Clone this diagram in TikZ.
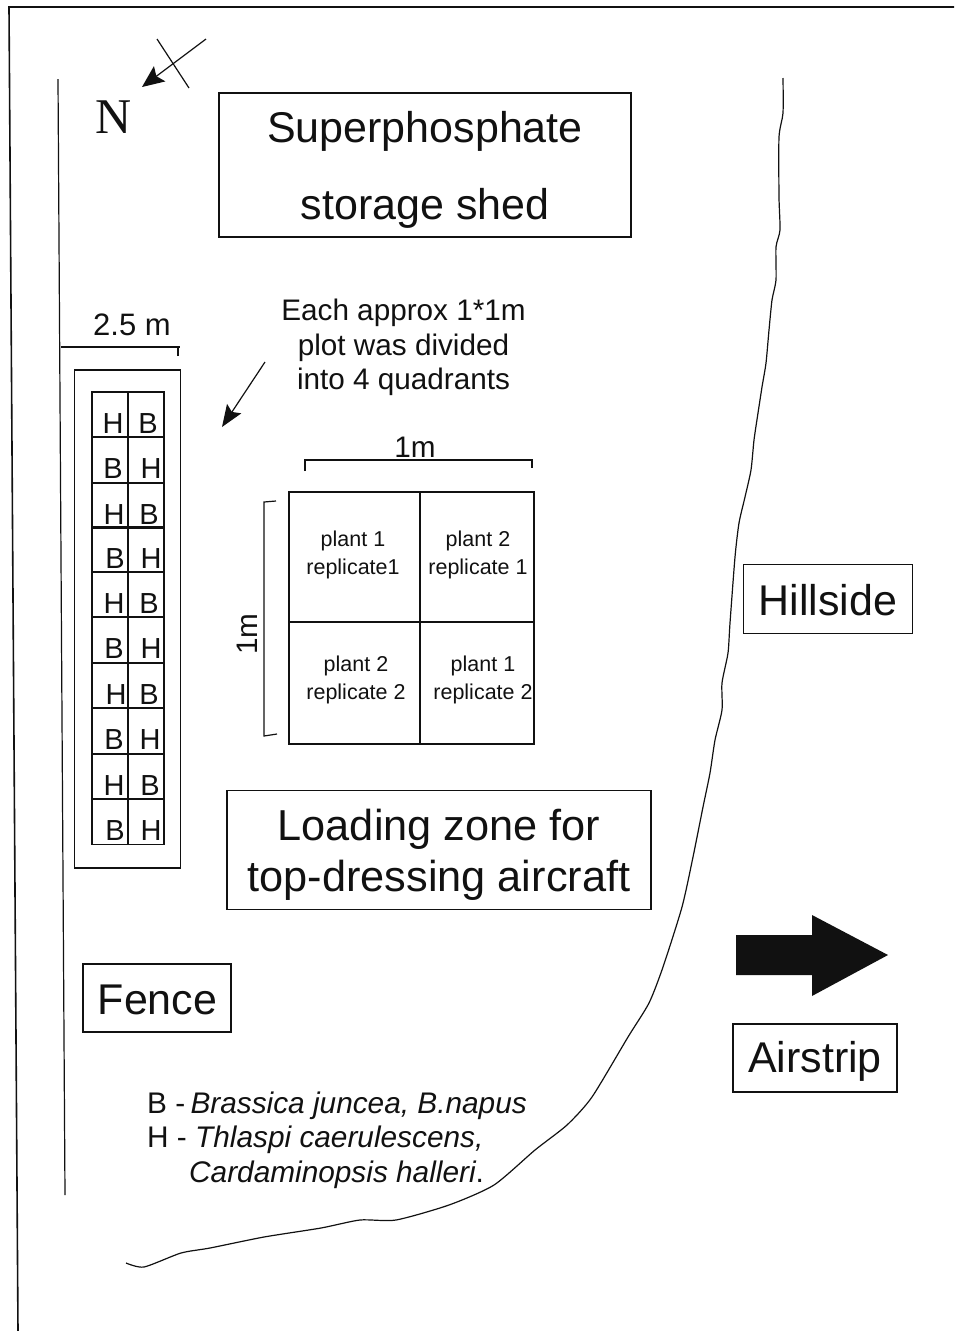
\documentclass[tikz,border=0pt]{standalone}
\usepackage{fontspec}
\setmainfont{Liberation Sans}
\newfontfamily\compassfont{Liberation Serif}
\usetikzlibrary{arrows.meta,positioning}
\definecolor{Ink}{HTML}{111111}
\begin{document}
\begin{tikzpicture}[x=1pt,y=-1pt,>=Stealth,
    lbl/.style={draw=Ink,line width=1.3pt,inner sep=0pt,outer sep=0pt,align=center,text=Ink,
      font=\fontsize{43}{51}\selectfont},
    cellbox/.style={draw=Ink,line width=1.2pt,anchor=north west,inner sep=0pt,outer sep=0pt,
      minimum width=36pt,minimum height=45.3pt},
    letr/.style={anchor=base,inner sep=0pt,text=Ink,font=\fontsize{29}{29}\selectfont},
    quad/.style={draw=Ink,line width=1.2pt,anchor=north west,inner sep=0pt,outer sep=0pt},
    quadtxt/.style={inner sep=0pt,align=center,text=Ink,font=\fontsize{21.5}{28}\selectfont},
    note/.style={inner sep=0pt,align=center,text=Ink,font=\fontsize{29.7}{34.5}\selectfont},
    line/.style={draw=Ink,line width=1.2pt}]
  \useasboundingbox (0,0) rectangle (954,1331);
  % fence lines and frame
  \coordinate (frameTL) at (9,7);
  \coordinate (frameTR) at (954,7);
  \coordinate (frameBL) at (18,1331);
  \coordinate (fenceT) at (58,79);
  \coordinate (fenceB) at (65,1195);
  \draw[line,line width=1.6pt] (frameBL) -- (frameTL) -- (frameTR);
  \draw[line] (fenceT) -- (fenceB);
  % compass
  \coordinate (tail) at (206,39);
  \coordinate (tip) at (142,87);
  \coordinate (crossA) at (157,39);
  \coordinate (crossB) at (189,88);
  \draw[line,->,>={Stealth[length=22pt,width=19pt,inset=4pt]}] (tail) -- (tip);
  \draw[line] (crossA) -- (crossB);
  \node[inner sep=0pt,text=Ink,font=\compassfont\fontsize{50}{50}\selectfont] (N) at (114,117) {N};
  % labelled boxes
  \node[lbl,minimum width=412pt,minimum height=144pt,text height=109pt,text depth=0pt] (shed) at (425,165)
    {Superphosphate\\[26pt] storage shed};
  \node[lbl,minimum width=424pt,minimum height=119pt,text height=82pt,text depth=0pt,
    font=\fontsize{43.3}{51}\selectfont] (zone) at (439,850)
    {Loading zone for\\ top-dressing aircraft};
  \node[lbl,minimum width=148pt,minimum height=68pt,text height=33pt,text depth=0pt] (fence) at (157,998) {\hspace{1pt}Fence};
  \node[lbl,minimum width=169pt,minimum height=69pt,text height=33pt,text depth=0pt] (hill) at (828,599) {Hillside};
  \node[lbl,minimum width=164pt,minimum height=68pt,text height=28pt,text depth=0pt] (air) at (815,1058) {Airstrip};
  % plots
  \coordinate (dimL) at (61,347);
  \coordinate (dimR) at (180,347);
  \coordinate (dimT) at (178,356);
  \draw[line] (dimL) -- (dimR);
  \draw[line] (dimT) -- (dimT|-dimR);
  \node[note,font=\fontsize{31}{31}\selectfont] (wide) at (132,325) {2.5 m};
  \node[draw=Ink,line width=1.5pt,anchor=north west,inner sep=0pt,outer sep=0pt,
    minimum width=106pt,minimum height=498pt] (plotarea) at (74.5,370) {};
  \foreach \yy/\ltxt/\lx/\rtxt/\rx [count=\n] in {392/H/113/B/148,437/B/113/H/151,483/H/114/B/149,
      527/B/115/H/151,572/H/114/B/149,617/B/114/H/151,663/H/116/B/149,708/B/114/H/150,
      754/H/114/B/150,799/B/115/H/151}{
    \node[cellbox] (left\n) at (92,\yy) {};
    \node[cellbox] (right\n) at (128,\yy) {};
    \node[letr] (ltr\n) at (\lx,\yy+41) {\ltxt};
    \node[letr] (rtr\n) at (\rx,\yy+41) {\rtxt};
  }
  % note and its arrow
  \node[note] (each) at (403.5,347.5) {Each approx 1*1m\\ plot was divided\\ into 4 quadrants};
  \coordinate (noteS) at (265,362);
  \coordinate (noteE) at (222,427);
  \draw[line,->,>={Stealth[length=22pt,width=17pt,inset=4pt]}] (noteS) -- (noteE);
  % quadrants
  \node[quad,minimum width=131pt,minimum height=130pt] (q1) at (289,492) {};
  \node[quad,minimum width=114pt,minimum height=130pt] (q2) at (420,492) {};
  \node[quad,minimum width=131pt,minimum height=122pt] (q3) at (289,622) {};
  \node[quad,minimum width=114pt,minimum height=122pt] (q4) at (420,622) {};
  \node[quadtxt] (t1) at (353,555) {plant 1\\ replicate1};
  \node[quadtxt] (t2) at (478,555) {plant 2\\ replicate 1};
  \node[quadtxt] (t3) at (356,680) {plant 2\\ replicate 2};
  \node[quadtxt] (t4) at (483,680) {plant 1\\ replicate 2};
  \coordinate (topL) at (305,460);
  \coordinate (topR) at (532,460);
  \draw[line] (305,471) -- (topL) -- (topR) -- (532,468);
  \node[note] (oneTop) at (415,447) {1m};
  \coordinate (sideT) at (264,502);
  \coordinate (sideB) at (264,736);
  \draw[line] (276,501) -- (sideT) -- (sideB) -- (277,734);
  \node[note,rotate=90] (oneSide) at (247,634) {1m};
  % hillside edge
  \draw[line] plot[smooth,tension=0.4] coordinates {(783,78) (783,113) (779,137) (779,197)
    (780,230) (776,247) (776,280) (772,300) (769,330) (766,363) (762,387) (758,413)
    (754,440) (751,470) (745,497) (739,523) (735,557) (730,623) (728,653) (722,683)
    (722,710) (715,740) (710,773) (703,807) (693,857) (682,907) (663,967) (649,1003)
    (628,1037) (592,1097) (567,1125) (535,1150) (494,1185) (449,1205) (396,1220)
    (360,1220) (321,1228) (264,1237) (210,1248) (181,1253) (144,1267) (126,1263)};
  % way to the airstrip
  \fill[Ink] (736,935) -- (812,935) -- (812,915) -- (888,955) -- (812,996) -- (812,975)
    -- (736,975) -- cycle;
  % key
  \node[inner sep=0pt,anchor=north west,align=left,text=Ink,
    font=\fontsize{29.8}{34.5}\selectfont] (key) at (147,1091.5)
    {B -\hspace{-3pt} \textit{Brassica juncea, B.napus}\\ H - \textit{Thlaspi caerulescens,}\\
     \hspace*{42pt}\textit{Cardaminopsis halleri}.};
\end{tikzpicture}
\end{document}
